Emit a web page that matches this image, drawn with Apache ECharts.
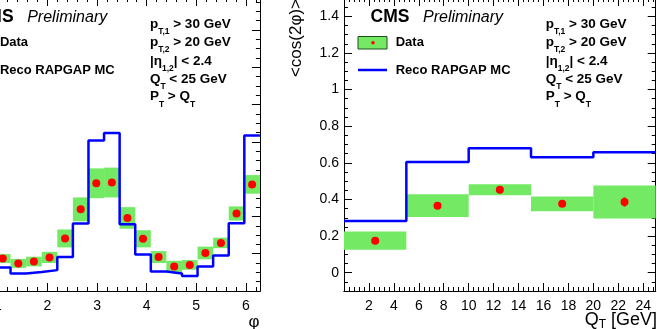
<!DOCTYPE html>
<html><head><meta charset="utf-8">
<script src="https://cdn.jsdelivr.net/npm/echarts@6/dist/echarts.min.js"></script>
<style>html,body{margin:0;padding:0;background:#fff;overflow:hidden}#c{width:657px;height:329px}</style>
</head><body><div id="c"></div>
<script>
// ---------------- data ----------------
// left panel: normalised phi distribution, 20 bins of width pi/10 on [0, 2pi]
const phiBinCount = 20;
const phiData    = [0.280,0.205,0.130,0.087,0.074,0.079,0.090,0.141,0.219,0.289,0.291,0.196,0.140,0.091,0.066,0.070,0.102,0.129,0.208,0.286];
const phiDataErr = [0.023,0.019,0.014,0.012,0.012,0.013,0.015,0.024,0.032,0.040,0.040,0.029,0.023,0.016,0.015,0.013,0.017,0.014,0.019,0.025];
const phiMC      = [0.415,0.180,0.095,0.063,0.047,0.051,0.056,0.091,0.181,0.404,0.424,0.179,0.098,0.052,0.047,0.040,0.066,0.095,0.182,0.417];
// right panel: <cos(2phi)> vs Q_T
const qtEdges  = [0,5,10,15,20,25];
const cosData  = [0.175,0.366,0.453,0.376,0.386];
const cosSyst  = [0.050,0.062,0.030,0.040,0.090];
const cosStat  = [0.015,0.018,0.012,0.015,0.025];
const cosMC    = [0.282,0.604,0.679,0.630,0.658];
const cosTicks = [0,0.2,0.4,0.6,0.8,1,1.2,1.4];
const cutLines = ['{b|p}{s|T,1}{b| > 30 GeV}','{b|p}{s|T,2}{b| > 20 GeV}','{b||η}{s|1,2}{b|| < 2.4}','{b|Q}{s|T}{b| < 25 GeV}','{b|P}{s|T}{b| > Q}{s|T}'];

// ---------------- build ----------------
const F = '"Liberation Sans", Arial, sans-serif';
const GREEN = '#74ea64', BLUE = '#0000ff', RED = '#ff0000';
const TWO_PI = 2*Math.PI;
const phiW = TWO_PI/phiBinCount;

const phiBand = phiData.map((v,i)=>[i*phiW,(i+1)*phiW,v,phiDataErr[i]]);
const phiPts  = phiData.map((v,i)=>[(i+0.5)*phiW,v]);
const phiLine = [];
phiMC.forEach((v,i)=>{phiLine.push([i*phiW,v]);phiLine.push([(i+1)*phiW,v]);});

const cosBand = cosData.map((v,i)=>[qtEdges[i],qtEdges[i+1],v,cosSyst[i]]);
const cosErr  = cosData.map((v,i)=>[(qtEdges[i]+qtEdges[i+1])/2,v,cosStat[i]]);
const cosPts  = cosData.map((v,i)=>[(qtEdges[i]+qtEdges[i+1])/2,v]);
const cosLine = [];
cosMC.forEach((v,i)=>{cosLine.push([qtEdges[i],v]);cosLine.push([qtEdges[i+1],v]);});

function axis(gridIndex, position, min, max, interval, len, extra){
  const a = {type:'value', gridIndex, position, min, max,
    axisLine:{show:true,onZero:false,lineStyle:{color:'#000',width:1}},
    axisTick:{show:true,inside:true,length:len,lineStyle:{color:'#000',width:1}},
    axisLabel:{show:false}, splitLine:{show:false}, minorTick:{show:false}};
  if (interval!=null) a.interval = interval;
  return Object.assign(a, extra||{});
}
const lab = {show:true,color:'#000',fontFamily:F,fontSize:14,margin:8};
const PHI_MAX_Y = 0.786;

const xAxis = [
  axis(0,'bottom',0,TWO_PI,1,8,{axisLabel:Object.assign({},lab,{showMaxLabel:false})}),
  axis(0,'bottom',0,TWO_PI,0.2,4),
  axis(0,'top',0,TWO_PI,1,8),
  axis(0,'top',0,TWO_PI,0.2,4),
  axis(1,'bottom',0,25,2,8,{axisLabel:Object.assign({},lab,{showMinLabel:false,showMaxLabel:false})}),
  axis(1,'bottom',0,25,0.4,4),
  axis(1,'top',0,25,2,8),
  axis(1,'top',0,25,0.4,4)
];
const yAxis = [
  axis(0,'left',0,PHI_MAX_Y,0.1,8),
  axis(0,'left',0,PHI_MAX_Y,0.025,4),
  axis(0,'right',0,PHI_MAX_Y,0.1,8),
  axis(0,'right',0,PHI_MAX_Y,0.025,4),
  axis(1,'left',-0.1,1.5,null,8,{
    axisTick:{show:true,inside:true,length:8,customValues:cosTicks,lineStyle:{color:'#000',width:1}},
    axisLabel:Object.assign({},lab,{margin:5,customValues:cosTicks})}),
  axis(1,'left',-0.1,1.5,0.05,4),
  axis(1,'right',-0.1,1.5,null,8,{
    axisTick:{show:true,inside:true,length:8,customValues:cosTicks,lineStyle:{color:'#000',width:1}}}),
  axis(1,'right',-0.1,1.5,0.05,4)
];

function bandRender(params, api){
  const lo=api.value(0), hi=api.value(1), v=api.value(2), e=api.value(3);
  const p1=api.coord([lo,v+e]), p2=api.coord([hi,v-e]);
  return {type:'rect',shape:{x:p1[0],y:p1[1],width:p2[0]-p1[0],height:p2[1]-p1[1]},style:{fill:GREEN}};
}
function errRender(params, api){
  const x=api.value(0), v=api.value(1), e=api.value(2);
  const p1=api.coord([x,v+e]), p2=api.coord([x,v-e]);
  return {type:'line',shape:{x1:p1[0],y1:p1[1],x2:p2[0],y2:p2[1]},style:{stroke:RED,lineWidth:2}};
}

const series = [
  {type:'custom',xAxisIndex:0,yAxisIndex:0,renderItem:bandRender,data:phiBand,z:1,encode:{x:[0,1],y:2}},
  {type:'line',xAxisIndex:0,yAxisIndex:0,data:phiLine,symbol:'none',lineStyle:{color:BLUE,width:2.5},z:2},
  {type:'scatter',xAxisIndex:0,yAxisIndex:0,data:phiPts,symbolSize:8,itemStyle:{color:RED,opacity:1},z:3},
  {type:'custom',xAxisIndex:4,yAxisIndex:4,renderItem:bandRender,data:cosBand,z:1,encode:{x:[0,1],y:2}},
  {type:'custom',xAxisIndex:4,yAxisIndex:4,renderItem:errRender,data:cosErr,z:3,encode:{x:0,y:1}},
  {type:'line',xAxisIndex:4,yAxisIndex:4,data:cosLine,symbol:'none',lineStyle:{color:BLUE,width:2.5},z:2},
  {type:'scatter',xAxisIndex:4,yAxisIndex:4,data:cosPts,symbolSize:8,itemStyle:{color:RED,opacity:1},z:4}
];

function panelGraphics(dx){
  const g = [];
  g.push({type:'text',x:370.5+dx,y:17.5,style:{text:'CMS',font:'bold 17.5px '+F,fill:'#000',verticalAlign:'middle'}});
  g.push({type:'text',x:423+dx,y:17.5,style:{text:'Preliminary',font:'italic 16px '+F,fill:'#000',verticalAlign:'middle'}});
  g.push({type:'rect',shape:{x:358+dx,y:36.5,width:29,height:12.5},style:{fill:GREEN,stroke:'#1f4f1f',lineWidth:1}});
  g.push({type:'circle',shape:{cx:373+dx,cy:42.8,r:1.8},style:{fill:RED}});
  g.push({type:'line',shape:{x1:358+dx,y1:70,x2:387+dx,y2:70},style:{stroke:BLUE,lineWidth:2.5}});
  g.push({type:'text',x:395.7+dx,y:42.5,style:{text:'Data',font:'bold 13px '+F,fill:'#000',verticalAlign:'middle'}});
  g.push({type:'text',x:395.7+dx,y:70.5,style:{text:'Reco RAPGAP MC',font:'bold 13px '+F,fill:'#000',verticalAlign:'middle'}});
  const ys=[24,42.5,61,79.3,96.7];
  cutLines.forEach((t,i)=>{
    g.push({type:'text',x:545.7+dx,y:ys[i],style:{text:t,verticalAlign:'middle',
      rich:{b:{fontSize:13.5,fontWeight:'bold',fontFamily:F,fill:'#000'},
            s:{fontSize:8.5,fontWeight:'bold',fontFamily:F,fill:'#000',padding:[15,0,0,0]}}}});
  });
  return g;
}
const DX = -395.8;
const graphic = [].concat(panelGraphics(DX), panelGraphics(0), [
  {type:'text',x:296,y:-1,rotation:Math.PI/2,style:{text:'<cos(2φ)>',font:'17px '+F,fill:'#000',align:'right',verticalAlign:'middle'}},
  {type:'text',x:259.5,y:322,style:{text:'φ',font:'17px '+F,fill:'#000',align:'right',verticalAlign:'middle'}},
  {type:'text',x:657,y:320,style:{text:'{q|Q}{s|T}{q| [GeV]}',align:'right',verticalAlign:'middle',
    rich:{q:{fontSize:18,fontFamily:F,fill:'#000'},s:{fontSize:12,fontFamily:F,fill:'#000',padding:[10,0,0,0]}}}}
]);

const chart = echarts.init(document.getElementById('c'), null, {renderer:'canvas'});
chart.setOption({
  animation:false,
  backgroundColor:'#fff',
  grid:[
    {left:-51.8,top:-2,width:311.7,height:293,containLabel:false,outerBoundsMode:'none'},
    {left:344,top:-2,width:311.7,height:293,containLabel:false,outerBoundsMode:'none'}
  ],
  xAxis, yAxis, series, graphic
});
</script></body></html>
